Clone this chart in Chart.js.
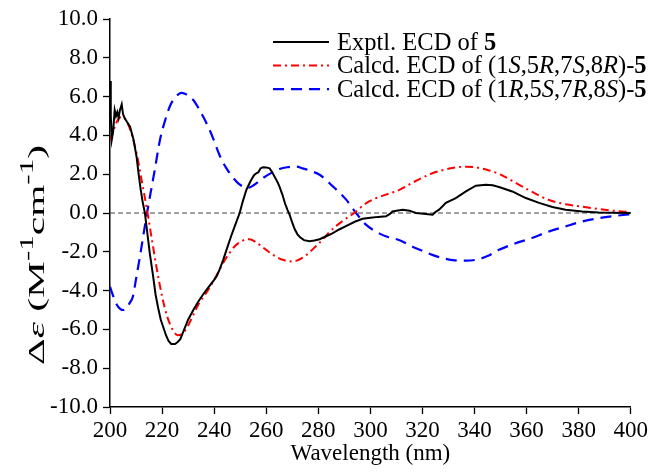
<!DOCTYPE html>
<html>
<head>
<meta charset="utf-8">
<script src="https://cdn.jsdelivr.net/npm/chart.js@4.4.0/dist/chart.umd.min.js"></script>
<style>
  html, body { margin: 0; padding: 0; background: #fff; }
  #wrap { width: 651px; height: 472px; position: relative; }
</style>
</head>
<body>
<div id="wrap"><canvas id="ecdChart"></canvas></div>
<script>
const FONT = "'Liberation Serif', 'Times New Roman', serif";

// tick labels
const xTicks = [200, 220, 240, 260, 280, 300, 320, 340, 360, 380, 400];
const yTicks = [-10, -8, -6, -4, -2, 0, 2, 4, 6, 8, 10];

// experimental ECD of 5
const exptX = [200, 200.3, 200.7, 201.2, 201.8, 202.3, 202.8, 203.3, 203.8, 204.5, 205.0, 205.6, 206.5, 207.7,
  209.0, 210.2, 211.0, 211.8, 212.5, 213.4, 214.3, 215.3, 216.5, 217.5, 218.5, 219.5, 220.5, 221.5, 222.5, 223.5,
  225.0, 226.0, 227.0, 228.5, 230.0, 232.0, 234.0, 236.0, 238.0, 240.0, 241.0, 242.0, 243.5, 245.0, 246.5, 248.0,
  249.8, 251.0, 252.4, 254.0, 255.3, 256.2, 257.0, 257.8, 258.7, 260.0, 261.3, 262.3, 263.3, 264.3, 265.1, 266.2,
  267.2, 268.2, 269.0, 270.0, 271.0, 272.0, 273.0, 274.5, 276.6, 278.5, 280.5, 283.0, 285.4, 288.0, 291.0, 294.0,
  297.0, 300.0, 303.0, 306.0, 307.5, 308.5, 310.0, 312.4, 315.0, 317.5, 319.5, 321.3, 323.9, 325.0, 326.4, 329.0,
  332.8, 336.7, 340.5, 344.3, 347.0, 349.4, 354.5, 359.7, 364.8, 369.9, 375.0, 381.4, 387.7, 393.0, 400.0];
const exptY = [6.8, 5.0, 3.8, 4.2, 5.3, 5.0, 5.2, 4.9, 5.3, 5.6, 5.1, 4.9, 4.7, 4.45,
  3.8, 2.9, 2.0, 1.2, 0.6, 0.0, -1.0, -2.1, -3.2, -4.2, -4.9, -5.5, -5.9, -6.3, -6.6, -6.75,
  -6.75, -6.65, -6.5, -6.0, -5.5, -5.0, -4.55, -4.15, -3.8, -3.45, -3.25, -2.95, -2.4, -1.8, -1.2, -0.65,
  0.0, 0.6, 1.2, 1.65, 1.95, 2.05, 2.1, 2.3, 2.36, 2.35, 2.3, 2.1, 1.85, 1.6, 1.36, 0.95,
  0.5, 0.15, -0.1, -0.5, -0.85, -1.1, -1.25, -1.4, -1.45, -1.42, -1.35, -1.2, -1.05, -0.85, -0.65, -0.45,
  -0.3, -0.25, -0.2, -0.17, -0.05, 0.08, 0.12, 0.17, 0.12, 0.0, -0.02, -0.05, -0.09, 0.05, 0.17, 0.52,
  0.77, 1.11, 1.41, 1.46, 1.43, 1.34, 1.11, 0.77, 0.52, 0.31, 0.17, 0.08, 0.03, 0.01, 0.0];

// calculated ECD of (1S,5R,7S,8R)-5
const calcSX = [200, 201, 202, 203, 204.5, 205.5, 206.5, 208, 210.2, 212, 214, 216, 218, 220, 222, 224, 226, 228,
  230, 232, 234, 236, 238, 240, 242, 244, 246, 248, 250, 252, 253.6, 256, 258, 260, 262, 264, 266, 268, 270, 272,
  274, 276, 278, 280, 282, 284.3, 287, 290, 293.8, 298.3, 302, 306, 311, 316, 320, 323.8, 328, 332, 336.8, 341,
  345, 350, 356, 362, 368.6, 375, 381, 388, 394, 400];
const calcSY = [3.75, 4.1, 4.5, 4.8, 4.96, 4.9, 4.7, 4.2, 3.08, 1.8, 0.33, -1.3, -2.9, -4.3, -5.35, -6.0, -6.3, -6.2,
  -5.8, -5.25, -4.7, -4.3, -3.9, -3.45, -2.94, -2.45, -2.05, -1.7, -1.5, -1.37, -1.35, -1.5, -1.7, -1.9, -2.1, -2.27, -2.4, -2.47, -2.5, -2.44,
  -2.3, -2.1, -1.85, -1.6, -1.32, -0.98, -0.65, -0.35, 0.0, 0.5, 0.75, 0.95, 1.18, 1.55, 1.82, 2.05, 2.22, 2.33, 2.39, 2.34,
  2.22, 1.98, 1.54, 1.1, 0.67, 0.45, 0.33, 0.2, 0.11, 0.05];

// calculated ECD of (1R,5S,7R,8S)-5
const calcRX = [200, 201, 202.5, 204, 205.1, 206.3, 207.5, 208.8, 210, 211.5, 214, 217.2, 219.2, 221, 223, 225,
  227.5, 229.5, 231.9, 233.8, 235.8, 237.7, 239.6, 242, 244.5, 247, 249.5, 252.9, 255, 258.7, 262, 265.1, 268,
  271.5, 274, 277, 280.5, 285.6, 290.7, 294.5, 298.3, 303.4, 307, 311, 316.2, 320, 323.8, 328.9, 332.5, 336.8,
  341, 345, 349.4, 355, 362, 368, 375, 381, 387.7, 394, 400];
const calcRY = [-3.8, -4.2, -4.7, -4.95, -5.0, -4.9, -4.65, -4.3, -3.4, -2.24, -0.17, 2.23, 3.78, 4.7, 5.5, 5.95,
  6.19, 6.1, 5.84, 5.45, 4.96, 4.45, 3.85, 3.0, 2.35, 1.87, 1.5, 1.3, 1.42, 1.8, 2.07, 2.27, 2.36,
  2.39, 2.3, 2.17, 1.97, 1.37, 0.69, 0.0, -0.6, -1.05, -1.25, -1.39, -1.74, -1.95, -2.16, -2.36, -2.44, -2.46,
  -2.4, -2.22, -1.9, -1.6, -1.29, -0.98, -0.69, -0.45, -0.27, -0.15, -0.06];

// zero reference line
const zeroX = [200, 400];
const zeroY = [0, 0];

const legendParts = [
  [['Exptl. ECD of ', ''], ['5', 'bold']],
  [['Calcd. ECD of (1', ''], ['S', 'italic'], [',5', ''], ['R', 'italic'], [',7', ''], ['S', 'italic'],
   [',8', ''], ['R', 'italic'], [')-', ''], ['5', 'bold']],
  [['Calcd. ECD of (1', ''], ['R', 'italic'], [',5', ''], ['S', 'italic'], [',7', ''], ['R', 'italic'],
   [',8', ''], ['S', 'italic'], [')-', ''], ['5', 'bold']]
];
const yTitleParts = [['\u0394', ''], ['\u03b5', 'italic'], [' (M', ''], ['-1', 'sup'], ['cm', ''], ['-1', 'sup'], [')', '']];

function toPoints(xs, ys) {
    return xs.map((x, i) => ({ x: x, y: ys[i] }));
}

function partFont(style, size) {
    if (style === 'bold') return 'bold ' + size + 'px ' + FONT;
    if (style === 'italic') return 'italic ' + size + 'px ' + FONT;
    if (style === 'sup') return Math.round(size * 0.75) + 'px ' + FONT;
    return size + 'px ' + FONT;
}

function partsWidth(ctx, parts, size) {
    let w = 0;
    parts.forEach(p => { ctx.font = partFont(p[1], size); w += ctx.measureText(p[0]).width; });
    return w;
}

function drawParts(ctx, parts, x, y, size) {
    ctx.textBaseline = 'alphabetic';
    ctx.textAlign = 'left';
    parts.forEach(p => {
        ctx.font = partFont(p[1], size);
        ctx.fillText(p[0], x, p[1] === 'sup' ? y - size * 0.45 : y);
        x += ctx.measureText(p[0]).width;
    });
}

// legend and y title need italics / bold / superscripts, so draw them by hand
const richTextPlugin = {
    id: 'richText',
    afterDraw(chart) {
        const ctx = chart.ctx;
        ctx.save();
        ctx.fillStyle = '#000';

        // legend (rows use the dataset styles)
        legendParts.forEach((parts, i) => {
            const ds = chart.data.datasets[i];
            const y = 42 + i * 23.6;
            ctx.strokeStyle = ds.borderColor;
            ctx.lineWidth = ds.borderWidth;
            ctx.setLineDash(ds.borderDash || []);
            ctx.beginPath();
            ctx.moveTo(273, y);
            ctx.lineTo(329, y);
            ctx.stroke();
            drawParts(ctx, parts, 337, y + 7.5, 24.5);
        });
        ctx.setLineDash([]);

        // y axis title, rotated; the original lettering runs long, so stretch it along its length
        const size = 24;
        const w = partsWidth(ctx, yTitleParts, size);
        const stretch = 220 / w;
        ctx.translate(44, 255);
        ctx.rotate(-Math.PI / 2);
        ctx.scale(stretch, 1);
        drawParts(ctx, yTitleParts, -w / 2, 0, size);
        ctx.restore();
    }
};

const ctx = document.getElementById('ecdChart').getContext('2d');

const ecdChart = new Chart(ctx, {
    type: 'line',
    data: {
        datasets: [{
            label: 'Exptl. ECD of 5',
            data: toPoints(exptX, exptY),
            borderColor: '#000000',
            borderWidth: 2,
            tension: 0
        }, {
            label: 'Calcd. ECD of (1S,5R,7S,8R)-5',
            data: toPoints(calcSX, calcSY),
            borderColor: '#ff0000',
            borderWidth: 2,
            borderDash: [8, 4, 2, 4],
            cubicInterpolationMode: 'monotone'
        }, {
            label: 'Calcd. ECD of (1R,5S,7R,8S)-5',
            data: toPoints(calcRX, calcRY),
            borderColor: '#0000ff',
            borderWidth: 2.2,
            borderDash: [11, 7],
            cubicInterpolationMode: 'monotone'
        }, {
            label: 'zero',
            data: toPoints(zeroX, zeroY),
            borderColor: '#444444',
            borderWidth: 1,
            borderDash: [5, 3]
        }]
    },
    options: {
        responsive: true,
        maintainAspectRatio: false,
        animation: false,
        layout: { padding: { top: 19, right: 19, left: 0, bottom: 0 } },
        elements: { point: { radius: 0 } },
        plugins: {
            legend: { display: false },
            tooltip: { enabled: false }
        },
        scales: {
            x: {
                type: 'linear',
                min: 200,
                max: 400,
                afterBuildTicks: s => { s.ticks = xTicks.map(v => ({ value: v })); },
                afterFit: s => { s.height = 65; },
                ticks: {
                    color: '#000',
                    padding: 3,
                    maxRotation: 0,
                    font: { family: FONT, size: 23 },
                    callback: v => String(v)
                },
                grid: { drawOnChartArea: false, tickLength: 7, tickColor: '#000', tickWidth: 1.3 },
                border: { color: '#000', width: 1.5 },
                title: {
                    display: true,
                    text: 'Wavelength (nm)',
                    color: '#000',
                    font: { family: FONT, size: 23 },
                    padding: { top: 0, bottom: 4 }
                }
            },
            y: {
                min: -10,
                max: 10,
                afterBuildTicks: s => { s.ticks = yTicks.map(v => ({ value: v })); },
                afterFit: s => { s.width = 110; },
                ticks: {
                    color: '#000',
                    padding: 5,
                    font: { family: FONT, size: 23 },
                    callback: v => v.toFixed(1)
                },
                grid: { drawOnChartArea: false, tickLength: 7, tickColor: '#000', tickWidth: 1.3 },
                border: { color: '#000', width: 1.5 }
            }
        }
    },
    plugins: [richTextPlugin]
});
</script>
</body>
</html>
